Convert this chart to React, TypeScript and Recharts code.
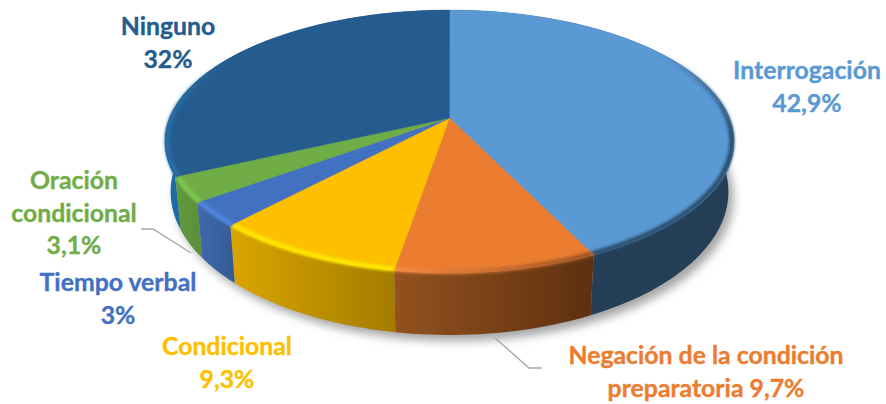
import React from "react";
import { PieChart, Pie } from "recharts";

const categories = [
  "Interrogación",
  "Negación de la condición preparatoria",
  "Condicional",
  "Tiempo verbal",
  "Oración condicional",
  "Ninguno",
];
const shares = [42.9, 9.7, 9.3, 3, 3.1, 32];
const rows = categories.map((name, i) => ({ name, value: shares[i] }));
const total = shares.reduce((a, b) => a + b, 0);

// Face colour and text colour of each slice
const faceColors = ["#5A99D4", "#EB7C30", "#FDBF00", "#4371C2", "#70AD47", "#255C8F"];
const wallStops = [
  ["#243F56", "#233E55"],
  ["#93521F", "#5E300F"],
  ["#D9A600", "#A37B00"],
  ["#3E69AE", "#365A95"],
  ["#629A3D", "#5A8E38"],
  ["#1E6BA6", "#1D5E92"],
];
// Rim gradients: direction, colour and opacity at each end of the band
const rimStops = [
  { x2: 0, y2: 1, from: "#2B4D6C", fromOpacity: 0, to: "#2B4D6C", toOpacity: 1, at: 0.4 },
  { x2: 1, y2: 0, from: "#F88B46", fromOpacity: 1, to: "#9A5220", toOpacity: 1, at: 1 },
  { x2: 1, y2: 0, from: "#FFE800", fromOpacity: 1, to: "#FFE800", toOpacity: 1, at: 1 },
  { x2: 1, y2: 0, from: "#4E86E0", fromOpacity: 1, to: "#4E86E0", toOpacity: 1, at: 1 },
  { x2: 1, y2: 0, from: "#7CC850", fromOpacity: 1, to: "#7CC850", toOpacity: 1, at: 1 },
  { x2: 0, y2: 1, from: "#286EA6", fromOpacity: 0, to: "#286EA6", toOpacity: 1, at: 0.5 },
];
// Clockwise degrees from twelve o'clock where each rim band is drawn
const rimRanges = [
  [55, 154.4],
  [154.4, 189.4],
  [189.4, 222.8],
  [222.8, 233.6],
  [233.6, 244.8],
  [244.8, 300],
];

// Word counts per label line, then centre x and baseline y of the block
const labelWords = [[1, 1], [4, 2], [1, 1], [2, 1], [1, 1, 1], [1, 1]];
const labelSpots = [
  { x: 807, y: 79 },
  { x: 706, y: 364 },
  { x: 227, y: 355 },
  { x: 118, y: 291 },
  { x: 74, y: 189 },
  { x: 168, y: 35 },
];
const leaderLines: Record<number, string> = {
  1: "495,338 529,368 542,368",
  4: "141,229 153,229 191,253",
};

const CX = 449.5;
const CY = 118;
const RADIUS = 280;
const TILT = 0.4546;
const DEPTH_K = 0.179;

// Perspective projection of a point on the unit disc onto the screen
const project = (deg: number, f = 1) => {
  const a = (deg * Math.PI) / 180;
  const u = Math.cos(a) * f;
  const v = Math.sin(a) * f;
  const w = 1 + DEPTH_K * v;
  return [CX + (RADIUS * u) / w, CY - (RADIUS * TILT * v) / w];
};
const lower = ([x, y]: number[]) => [CX + (x - CX) * 0.98, CY + 48 + (y - CY) * 1.09];
const arc = (from: number, to: number, f = 1) => {
  const n = Math.max(2, Math.ceil(Math.abs(to - from) / 1.5));
  return Array.from({ length: n + 1 }, (_, i) => project(from + ((to - from) * i) / n, f));
};
const toPath = (pts: number[][], close = false) =>
  pts.map((p, i) => `${i ? "L" : "M"}${p[0].toFixed(2)} ${p[1].toFixed(2)}`).join("") + (close ? "Z" : "");

const indexOf = (props: any) => categories.indexOf(props.name ?? props.payload?.name);

const ShadowShape = (props: any) => {
  const rim = arc(props.startAngle, props.endAngle).map(lower).map(([x, y]) => [x + 5, y + 6]);
  return <path d={toPath(rim, true)} fill="#a4a4a4" filter="url(#soft-shadow)" />;
};

const WallShape = (props: any) => {
  const i = indexOf(props);
  const top = arc(props.startAngle, props.endAngle);
  const bottom = top.map(lower).reverse();
  return <path d={toPath([...top, ...bottom], true)} fill={`url(#wall-${i})`} />;
};

const FaceShape = (props: any) => {
  const i = indexOf(props);
  const [a, b] = rimRanges[i];
  const face = [project(0, 0), ...arc(props.startAngle, props.endAngle)];
  const band = arc(90 - a, 90 - b, 0.992);
  return (
    <g>
      <path d={toPath(face, true)} fill={faceColors[i]} stroke={faceColors[i]} strokeWidth={0.4} />
      <path
        d={toPath(band)}
        fill="none"
        stroke={`url(#rim-${i})`}
        strokeWidth={5}
        filter="url(#soft-rim)"
      />
    </g>
  );
};

const percentText = (v: number) => `${String(v).replace(".", ",")}%`;

const renderLabel = (props: any) => {
  const i = props.index;
  const words = `${categories[i]} ${percentText(shares[i])}`.split(" ");
  let used = 0;
  const lines = labelWords[i].map((count) => {
    const line = words.slice(used, used + count).join(" ");
    used += count;
    return line;
  });
  const spot = labelSpots[i];
  return (
    <g>
      {leaderLines[i] && (
        <polyline points={leaderLines[i]} fill="none" stroke="#A6A6A6" strokeWidth={1.3} />
      )}
      <text
        textAnchor="middle"
        fontFamily="Lato, sans-serif"
        fontWeight={700}
        fontSize={24.8}
        fill={faceColors[i]}
        stroke={faceColors[i]}
        strokeWidth={0.35}
      >
        {lines.map((line, k) => (
          <tspan key={k} x={spot.x} y={spot.y + k * 32.5}>
            {line}
          </tspan>
        ))}
      </text>
    </g>
  );
};

const pieGeometry = {
  cx: CX,
  cy: CY,
  outerRadius: RADIUS,
  startAngle: 90,
  endAngle: -270,
  dataKey: "value",
  nameKey: "name",
  stroke: "none",
  isAnimationActive: false,
  legendType: "none" as const,
};

export default function App() {
  return (
    <div style={{ position: "absolute", left: 0, top: 0, width: 886, height: 404, background: "#fff" }}>
      <PieChart width={886} height={404} margin={{ top: 0, right: 0, bottom: 0, left: 0 }}>
        <defs>
          <filter id="soft-shadow" x="-10%" y="-10%" width="120%" height="130%">
            <feGaussianBlur stdDeviation="5" />
          </filter>
          <filter id="soft-rim" x="-10%" y="-30%" width="120%" height="160%">
            <feGaussianBlur stdDeviation="1.4" />
          </filter>
          {wallStops.map(([from, to], i) => (
            <linearGradient key={i} id={`wall-${i}`} x1="0" y1="0" x2="1" y2="0">
              <stop offset="0" stopColor={from} />
              <stop offset="1" stopColor={to} />
            </linearGradient>
          ))}
          {rimStops.map((s, i) => (
            <linearGradient key={i} id={`rim-${i}`} x1="0" y1="0" x2={s.x2} y2={s.y2}>
              <stop offset="0" stopColor={s.from} stopOpacity={s.fromOpacity} />
              <stop offset={s.at} stopColor={s.to} stopOpacity={s.toOpacity} />
            </linearGradient>
          ))}
        </defs>
        <Pie {...pieGeometry} data={[{ name: "total", value: total }]} shape={ShadowShape} />
        <Pie {...pieGeometry} data={rows} shape={WallShape} />
        <Pie {...pieGeometry} data={rows} shape={FaceShape} label={renderLabel} labelLine={false} />
      </PieChart>
    </div>
  );
}
